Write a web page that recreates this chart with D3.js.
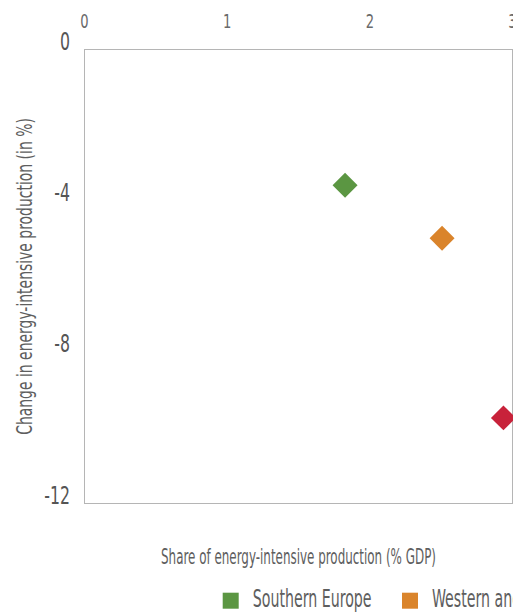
<!DOCTYPE html>
<html><head><meta charset="utf-8">
<script src="https://cdn.jsdelivr.net/npm/d3@7"></script>
<style>
html,body{margin:0;padding:0;background:#fff;overflow:hidden;}
svg{display:block;}
text{font-family:"Liberation Sans Narrow","DejaVu Sans Condensed","Arial Narrow",sans-serif;fill:#5e5e5e;}
</style></head><body>
<svg id="chart" width="513" height="612"></svg>
<script>
// ---- data ----
const regions = ["Southern Europe", "Western and Northern Europe"];
const shareGDP = [1.83, 2.51, 2.94];
const changePct = [-3.6, -5.0, -9.75];
const regionColors = ["#5b9642", "#da842b", "#c8223a"];
const xTicks = [0, 1, 2, 3];
const yTicks = [0, -4, -8, -12];
const xTitle = "Share of energy-intensive production (% GDP)";
const yTitle = "Change in energy-intensive production (in %)";

const svg = d3.select("#chart");
const x = d3.scaleLinear().domain([0, 3]).range([84, 512]);
const y = d3.scaleLinear().domain([0, -12]).range([49, 503]);

// measure natural width of a string at a size
function natural(str, size) {
  const t = svg.append("text").attr("font-size", size).text(str);
  const w = t.node().getComputedTextLength();
  t.remove();
  return w;
}

// frame (dotted)
svg.append("rect")
  .attr("x", x(0) + 0.5).attr("y", y(0) + 0.5)
  .attr("width", x(3) - x(0)).attr("height", y(-12) - y(0))
  .attr("fill", "none").attr("stroke", "#6a6a6a")
  .attr("stroke-width", 1).attr("stroke-dasharray", "1,1");

const kTick = 25.7 / natural("-12", 24);

// top x axis tick labels
const xAxis = d3.axisTop(x).tickValues(xTicks).tickSize(0).tickPadding(0).tickFormat(d => String(d));
const gx = svg.append("g").attr("transform", "translate(0,28)").call(xAxis);
gx.select(".domain").remove();
gx.selectAll("text").attr("dy", 0).attr("y", 0).attr("font-size", 20).style("fill", "#6a6a6a")
  .attr("font-family", null).attr("transform", `scale(${kTick},1)`);

// left y axis tick labels (baseline on grid value)
const yAxis = d3.axisLeft(y).tickValues(yTicks).tickSize(0).tickPadding(0).tickFormat(d => String(d));
const gy = svg.append("g").attr("transform", "translate(70,0)").call(yAxis);
gy.select(".domain").remove();
gy.selectAll("text").attr("dy", 0).attr("x", 0).attr("font-size", 24).style("fill", "#555")
  .attr("font-family", null).attr("transform", `scale(${kTick},1)`);

// points (square rotated 45deg)
const pts = shareGDP.map((v, i) => ({ x: v, y: changePct[i], c: regionColors[i] }));
const sym = d3.symbol().type(d3.symbolSquare).size(312);
svg.append("g").selectAll("path").data(pts).join("path")
  .attr("d", sym)
  .attr("transform", d => `translate(${x(d.x)},${y(d.y)}) rotate(45)`)
  .attr("fill", d => d.c);

// axis titles (condensed via horizontal scale)
const kx = 275 / natural(xTitle, 22);
svg.append("text")
  .attr("transform", `translate(298.5,564) scale(${kx},1)`).attr("text-anchor", "middle")
  .attr("font-size", 22).text(xTitle);

const ky = 317 / natural(yTitle, 22);
svg.append("text")
  .attr("transform", `translate(32,276.5) rotate(-90) scale(${ky},1)`).attr("text-anchor", "middle")
  .attr("font-size", 22).text(yTitle);

// legend
const lg = svg.append("g");
const kl = 119 / natural(regions[0], 24);
let lx = 222.7;
regions.forEach((r, i) => {
  lg.append("rect").attr("x", lx).attr("y", 592.7).attr("width", 16).attr("height", 16).attr("fill", regionColors[i]);
  lg.append("text").attr("transform", `translate(${lx + 30},607.3) scale(${kl},1)`)
    .attr("font-size", 24).text(r);
  lx += 30 + natural(r, 24) * kl + 30.3;
});
</script>
</body></html>
